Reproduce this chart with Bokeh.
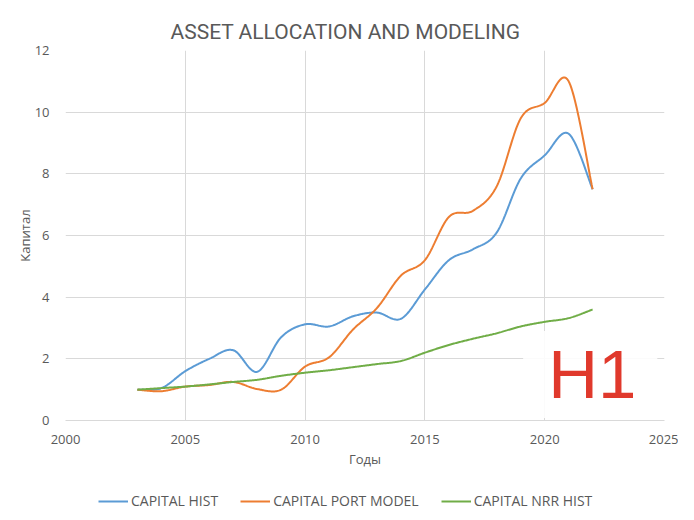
import numpy as np
from bokeh.plotting import figure
from bokeh.layouts import column
from bokeh.models import Range1d, FixedTicker, Legend, LegendItem, Label, BoxAnnotation
from bokeh.embed import file_html
from bokeh.resources import INLINE

years = list(range(2003, 2023))
capital_hist = [1.0, 1.05, 1.6, 2.0, 2.28, 1.58, 2.7, 3.12, 3.05, 3.38, 3.5, 3.3, 4.25, 5.2, 5.55, 6.1, 7.85, 8.6, 9.3, 7.5]
capital_port_model = [1.0, 0.95, 1.1, 1.15, 1.25, 1.02, 1.0, 1.75, 2.05, 2.95, 3.65, 4.7, 5.2, 6.6, 6.8, 7.6, 9.8, 10.3, 11.0, 7.5]
capital_nrr_hist = [1.0, 1.05, 1.1, 1.17, 1.25, 1.32, 1.45, 1.55, 1.63, 1.73, 1.83, 1.93, 2.2, 2.45, 2.65, 2.83, 3.05, 3.2, 3.32, 3.6]
x_ticks = [2000, 2005, 2010, 2015, 2020, 2025]
y_ticks = [0, 2, 4, 6, 8, 10, 12]

GRID = "#d9d9d9"
TXT = "#595959"
FONT = "Open Sans"


def smooth(xs, ys, n=30):
    """Excel-like smoothed line: cubic Bezier segments with Catmull-Rom control points."""
    x = np.asarray(xs, float)
    y = np.asarray(ys, float)
    px = np.concatenate([[x[0]], x, [x[-1]]])
    py = np.concatenate([[y[0]], y, [y[-1]]])
    t = np.linspace(0, 1, n)[:, None]
    outx, outy = [], []
    for i in range(1, len(px) - 2):
        p0 = np.array([px[i], py[i]])
        p3 = np.array([px[i + 1], py[i + 1]])
        c1 = p0 + (np.array([px[i + 1], py[i + 1]]) - np.array([px[i - 1], py[i - 1]])) / 6
        c2 = p3 - (np.array([px[i + 2], py[i + 2]]) - np.array([px[i], py[i]])) / 6
        pts = ((1 - t) ** 3) * p0 + 3 * ((1 - t) ** 2) * t * c1 + 3 * (1 - t) * t ** 2 * c2 + t ** 3 * p3
        outx.extend(pts[:, 0])
        outy.extend(pts[:, 1])
    return outx, outy


p = figure(width=678, height=470, output_backend="svg", toolbar_location=None,
           x_range=Range1d(2000, 2025), y_range=Range1d(0, 12),
           min_border_left=65, min_border_right=14, min_border_top=50, min_border_bottom=47)

p.title.text = "ASSET ALLOCATION AND MODELING"
p.title.align = "left"
p.title.vertical_align = "top"
p.title.text_font = "Roboto"
p.title.text_font_size = "21px"
p.title.text_font_style = "normal"
p.title.text_color = TXT
p.title.offset = 105
p.title.standoff = 10

p.outline_line_color = None
p.background_fill_color = "white"
p.border_fill_color = "white"

for ax in (p.xaxis[0], p.yaxis[0]):
    ax.major_tick_line_color = None
    ax.minor_tick_line_color = None
    ax.major_label_text_font = FONT
    ax.major_label_text_font_size = "13px"
    ax.major_label_text_color = TXT
    ax.axis_label_text_font = FONT
    ax.axis_label_text_font_size = "13px"
    ax.axis_label_text_color = TXT
    ax.axis_label_text_font_style = "normal"

p.xaxis.ticker = FixedTicker(ticks=x_ticks)
p.yaxis.ticker = FixedTicker(ticks=y_ticks)
p.xaxis.axis_label = "Годы"
p.yaxis.axis_label = "Капитал"
p.xaxis.axis_line_color = GRID
p.yaxis.axis_line_color = None
p.xaxis.major_label_standoff = 8
p.yaxis.major_label_standoff = 10
p.xaxis.axis_label_standoff = 3
p.yaxis.axis_label_standoff = -2

p.xgrid.grid_line_color = GRID
p.ygrid.grid_line_color = GRID

series = [
    ("CAPITAL HIST", capital_hist, "#5b9bd5"),
    ("CAPITAL PORT MODEL", capital_port_model, "#ed7d31"),
    ("CAPITAL NRR HIST", capital_nrr_hist, "#70ad47"),
]
for name, vals, col in series:
    sx, sy = smooth(years, vals)
    p.line(sx, sy, line_color=col, line_width=2)

# watermark-like white patch with "H1"
box = BoxAnnotation(left=2019.1, right=2024.7, bottom=0.08, top=2.9,
                    fill_color="white", fill_alpha=0.88, line_color=None)
p.add_layout(box)
p.add_layout(Label(x=2020.15, y=0.25, text="H1", text_font="Liberation Sans",
                   text_font_size="69px", text_color="#e0392c"))

# legend strip below the chart (its own small figure; series drawn out of view)
q = figure(width=678, height=40, output_backend="svg", toolbar_location=None,
           x_range=Range1d(0, 1), y_range=Range1d(0, 1),
           min_border_left=0, min_border_right=0, min_border_top=0, min_border_bottom=0)
q.axis.visible = False
q.grid.visible = False
q.outline_line_color = None
q.border_fill_color = "white"
items = []
for name, vals, col in series:
    r = q.line(years, vals, line_color=col, line_width=2)
    items.append(LegendItem(label=name, renderers=[r]))

legend = Legend(items=items, orientation="horizontal", location=(33, 0),
                border_line_color=None, background_fill_alpha=0,
                label_text_font=FONT, label_text_font_size="14px", label_text_color=TXT,
                glyph_width=30, glyph_height=16, label_height=16, spacing=22,
                label_standoff=3, padding=0, margin=0)
q.add_layout(legend, "center")

layout = column(p, q, spacing=0)
open("out.html", "w").write(file_html(layout, INLINE))
